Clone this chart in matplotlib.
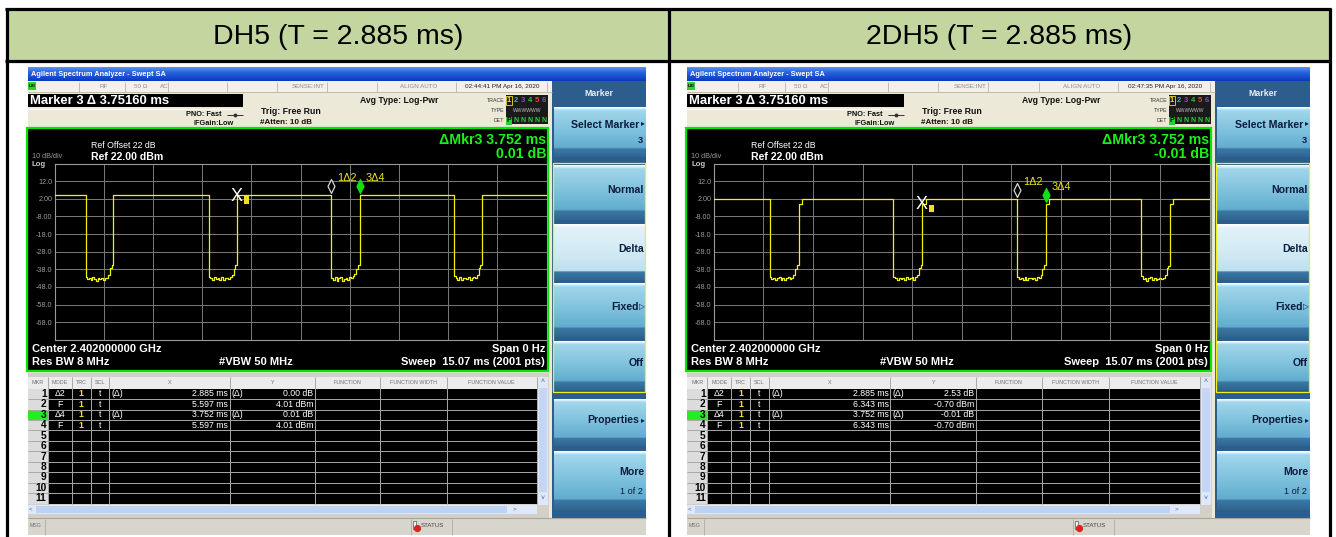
import numpy as np
import matplotlib
matplotlib.use("Agg")
import matplotlib.pyplot as plt
from matplotlib.patches import Rectangle
from matplotlib.path import Path
import matplotlib.transforms as mtransforms
import matplotlib.colors as mcolors

plt.rcParams['font.family'] = ['Liberation Sans', 'DejaVu Sans']

W, H = 1336, 537

# ---------------- data ----------------
panel_titles = ["DH5 (T = 2.885 ms)", "2DH5 (T = 2.885 ms)"]
timestamps = ["02:44:41 PM Apr 16, 2020", "02:47:35 PM Apr 16, 2020"]
marker_readout = ["Marker 3 \u0394 3.75160 ms", "Marker 3 \u0394 3.75160 ms"]
delta_mkr_time = ["\u0394Mkr3 3.752 ms", "\u0394Mkr3 3.752 ms"]
delta_mkr_level = ["0.01 dB", "-0.01 dB"]

sweep_ms = 15.07
ref_dbm = 22.0
db_per_div = 10.0
ytick_labels = ["12.0", "2.00", "-8.00", "-18.0", "-28.0", "-38.0", "-48.0", "-58.0", "-68.0"]

# DH5 trace (edges in ms, levels in dBm)
dh5_fall_ms = [0.95, 4.72, 8.482, 12.23]
dh5_rise_ms = [1.80, 5.597, 9.349, 13.10]
dh5_on_dbm = [4.0, 4.0, 4.0, 4.0, 4.0]
dh5_gap_dbm = [
    [-42.2, -43.6, -42.8, -43.9, -42.6, -43.3, -44.4, -42.7, -43.5, -42.9, -44.1, -43.2, -42.8, -41.2, -37.5, -35.5],
    [-42.5, -43.2, -44.0, -42.6, -43.5, -42.9, -43.8, -42.4, -44.3, -43.0, -42.7, -43.6, -42.2, -41.0, -37.8, -35.8],
    [-42.8, -43.9, -42.5, -44.6, -43.0, -42.4, -44.8, -43.4, -42.7, -43.8, -42.5, -43.1, -42.0, -40.8, -37.6, -35.6],
    [-41.8, -43.0, -43.8, -42.6, -44.0, -43.2, -42.9, -43.7, -42.6, -44.2, -43.0, -42.5, -42.9, -41.5, -37.4, -35.7],
]

# 2DH5 trace
dh2_fall_ms = [1.70, 5.46, 9.228, 12.98]
dh2_rise_ms = [2.58, 6.343, 10.095, 13.87]
dh2_on_dbm = [1.8, 1.8, 1.8, 1.8, 1.8]
dh2_sync_dbm = -0.7
dh2_sync_ms = 0.10
dh2_gap_dbm = [
    [-42.4, -43.5, -42.7, -44.0, -43.1, -42.5, -43.8, -42.9, -44.2, -43.0, -42.6, -43.7, -42.8, -41.4, -37.6, -35.8],
    [-42.6, -43.1, -44.1, -42.7, -43.4, -42.8, -44.0, -42.5, -43.6, -43.2, -42.4, -43.9, -42.6, -41.1, -37.4, -35.6],
    [-42.3, -43.4, -42.9, -43.8, -42.6, -44.3, -43.0, -42.7, -43.5, -42.8, -43.9, -42.6, -42.9, -41.3, -37.7, -35.7],
    [-42.0, -43.6, -42.8, -44.5, -43.2, -42.6, -43.9, -42.9, -44.1, -43.3, -42.7, -43.5, -42.7, -41.0, -37.5, -35.9],
]

# markers: 1 (delta), 2 (fixed), 3 (delta), 4 (fixed)
dh5_mkr_t = [8.482, 5.597, 9.349, 5.597]
dh5_mkr_y = [4.01, 4.01, 4.02, 4.01]
dh2_mkr_t = [9.228, 6.343, 10.095, 6.343]
dh2_mkr_y = [1.83, -0.70, -0.71, -0.70]

# marker table
table_header = ["MKR", "MODE", "TRC", "SCL", "X", "Y", "FUNCTION", "FUNCTION WIDTH", "FUNCTION VALUE"]
mkr_mode = ["\u03942", "F", "\u03944", "F"]
mkr_is_delta = [True, False, True, False]
dh5_x = ["2.885 ms", "5.597 ms", "3.752 ms", "5.597 ms"]
dh5_y = ["0.00 dB", "4.01 dBm", "0.01 dB", "4.01 dBm"]
dh2_x = ["2.885 ms", "6.343 ms", "3.752 ms", "6.343 ms"]
dh2_y = ["2.53 dB", "-0.70 dBm", "-0.01 dB", "-0.70 dBm"]

softkey_labels = ["Select Marker", "Normal", "Delta", "Fixed", "Off", "Properties", "More"]
softkey_sub = ["3", "", "", "", "", "", "1 of 2"]
softkey_arrow = ["\u25B8", "", "", "\u25B7", "", "\u25B8", ""]

# ---------------- figure ----------------
fig = plt.figure(figsize=(W / 100, H / 100), dpi=100)
bg = fig.add_axes([0, 0, 1, 1])
bg.set_xlim(0, W)
bg.set_ylim(H, 0)
bg.axis('off')

PT = 0.72  # points per pixel


def R(x, y, w, h, fc, ec='none', lw=0, z=1):
    bg.add_patch(Rectangle((x, y), w, h, facecolor=fc, edgecolor=ec, linewidth=lw, zorder=z))


def T(x, y, s, size, color='black', ha='left', va='center', weight='normal', z=6, **kw):
    bg.text(x, y, s, fontsize=size, color=color, ha=ha, va=va, fontweight=weight, zorder=z, **kw)


def L(xs, ys, color, lw, z=3):
    bg.plot(xs, ys, color=color, lw=lw, zorder=z, solid_capstyle='butt')


def G(x, y, w, h, stops, z=1):
    pos = [s[0] for s in stops]
    cols = np.array([mcolors.to_rgb(s[1]) for s in stops])
    f = np.linspace(0, 1, 64)
    img = np.stack([np.interp(f, pos, cols[:, k]) for k in range(3)], axis=1)[:, None, :]
    bg.imshow(img, extent=(x, x + w, y + h, y), aspect='auto', origin='upper',
              interpolation='bilinear', zorder=z)


def build_trace(falls, rises, on_levels, gaps, sync_level=None, sync_ms=0.0):
    t = [0.0]
    y = [on_levels[0]]
    for i, (f, r) in enumerate(zip(falls, rises)):
        g = gaps[i]
        edges = np.linspace(f, r, len(g) + 1)
        t.append(f)
        y.append(on_levels[i])
        for k in range(len(g)):
            t += [edges[k], edges[k + 1]]
            y += [g[k], g[k]]
        if sync_level is not None:
            t += [r, r + sync_ms, r + sync_ms]
            y += [sync_level, sync_level, on_levels[i + 1]]
        else:
            t += [r]
            y += [on_levels[i + 1]]
    t.append(sweep_ms)
    y.append(on_levels[-1])
    return np.array(t), np.array(y)


diamond = Path([(0, -1), (0.5, 0), (0, 1), (-0.5, 0), (0, -1)],
               [Path.MOVETO, Path.LINETO, Path.LINETO, Path.LINETO, Path.CLOSEPOLY])


def screen(x0, sx, ts, mread, dmt, dml, tr_t, tr_y, mk_t, mk_y, xv, yv):
    def X(r):
        return x0 + r * sx

    full = 618 * sx
    # title bar
    G(X(0), 67, full, 14, [(0, '#5a96f2'), (0.35, '#2a66e0'), (1, '#0a38c0')], z=2)
    T(X(3), 74, "Agilent Spectrum Analyzer - Swept SA", 5.3, 'white', weight='bold')
    # body
    R(X(0), 81, 524 * sx, 454, '#ece9d8', z=1)
    # status row
    R(X(0), 81, 524 * sx, 11, '#f3f1e8', z=2)
    L([X(0), X(524)], [92, 92], '#b8b4a8', 0.6)
    for rx in [50.6, 97, 140, 199, 249, 299, 349, 428, 519]:
        L([X(rx), X(rx)], [81.5, 91.5], '#b8b4a8', 0.6)
    R(X(0), 82, 8, 8, '#2ed02e', z=3)
    T(X(0.5), 86, "LXI", 3.2, 'black', weight='bold')
    grey = '#8a8a8a'
    T(X(71), 86.5, "RF", 4.5, grey)
    T(X(106), 86.5, "50 \u03a9", 4.5, grey)
    T(X(132), 86.5, "AC", 4.5, grey)
    T(X(297), 86.5, "SENSE:INT", 4.5, grey, ha='right')
    T(X(391), 86.5, "ALIGN AUTO", 4.5, grey, ha='center')
    T(X(474), 86.5, ts, 4.6, '#222222', ha='center')
    # marker readout
    R(X(0), 94, 215 * sx, 13, 'black', z=2)
    T(X(2), 100.5, mread, 9.4, 'white', weight='bold')
    L([X(0), X(215)], [109, 109], '#ffffff', 0.8)
    T(X(194), 114.5, "PNO: Fast", 5.3, '#111111', ha='right', weight='bold')
    L([X(199), X(215)], [114.5, 114.5], '#333333', 0.7)
    bg.plot([X(207)], [114.5], 'o', ms=1.8, color='#333333', zorder=4)
    T(X(206), 123.5, "IFGain:Low", 5.3, '#111111', ha='right', weight='bold')
    T(X(233), 111, "Trig: Free Run", 6.3, '#111111', weight='bold')
    T(X(232), 123, "#Atten: 10 dB", 5.8, '#111111', weight='bold')
    T(X(332), 100.3, "Avg Type: Log-Pwr", 6.2, '#111111', weight='bold')
    T(X(476.5), 100.3, "TRACE", 3.8, '#333333', ha='right')
    T(X(476.5), 110.7, "TYPE", 3.8, '#333333', ha='right')
    T(X(476.5), 120.3, "DET", 3.8, '#333333', ha='right')
    R(X(478), 95, 42 * sx, 29, '#1a1a1a', z=2)
    tcols = ['#f0e020', '#20c0c0', '#c030c0', '#30c030', '#e05020', '#7050e0']
    for k, c in enumerate(tcols):
        T(X(481 + k * 7), 100.3, str(k + 1), 5.5, c, ha='center', weight='bold')
    R(X(478.3), 96, 6, 9, 'none', ec='#f0e020', lw=0.6, z=4)
    T(X(499), 110.7, "WWWWWW", 3.6, '#c0c0c0', ha='center')
    R(X(478.3), 116.5, 6, 8, '#2ed02e', z=3)
    T(X(481), 120.3, "P", 5, 'black', ha='center', weight='bold')
    for k in range(5):
        T(X(488 + k * 7), 120.3, "N", 5, '#2ed02e', ha='center', weight='bold')

    # display (green frame)
    R(X(-1), 128, 521 * sx, 243, 'black', ec='#00e600', lw=1.6, z=2)
    T(X(63), 145, "Ref Offset 22 dB", 6.3, 'white')
    T(X(63), 156.5, "Ref 22.00 dBm", 7.6, 'white', weight='bold')
    T(X(4), 157, "10 dB/div", 5.2, '#9a9a9a')
    T(X(4), 164.5, "Log", 5.6, '#c8c8c8', weight='bold')
    T(X(518), 140.5, dmt, 10.2, '#1af01a', ha='right', weight='bold')
    T(X(518), 153.5, dml, 10.2, '#1af01a', ha='right', weight='bold')
    T(X(4), 348.5, "Center 2.402000000 GHz", 8.0, 'white', weight='bold')
    T(X(4), 362, "Res BW 8 MHz", 8.0, 'white', weight='bold')
    T(X(228), 362, "#VBW 50 MHz", 8.0, 'white', weight='bold', ha='center')
    T(X(517), 348.5, "Span 0 Hz", 8.0, 'white', weight='bold', ha='right')
    T(X(517), 362, "Sweep  15.07 ms (2001 pts)", 8.0, 'white', weight='bold', ha='right')

    # trace axes
    gx0, gx1, gy0, gy1 = X(26.5), X(518.5), 163.5, 339.8
    ax = fig.add_axes([gx0 / W, 1 - gy1 / H, (gx1 - gx0) / W, (gy1 - gy0) / H])
    ax.set_facecolor('black')
    ax.set_xlim(0, sweep_ms)
    ax.set_ylim(ref_dbm - 10 * db_per_div, ref_dbm)
    ax.set_xticks(np.linspace(0, sweep_ms, 11))
    ax.set_xticklabels([])
    yt = ref_dbm - db_per_div * np.arange(11)
    ax.set_yticks(yt)
    ax.set_yticklabels([""] + ytick_labels + [""], color='#9a9a9a', fontsize=5.2)
    ax.tick_params(length=0, pad=1.5)
    ax.grid(True, color='#7a7a7a', lw=0.7)
    for s in ax.spines.values():
        s.set_color('#9a9a9a')
        s.set_linewidth(0.8)
    ax.plot(tr_t, tr_y, color='#f2f20a', lw=0.9, zorder=3)
    up = mtransforms.offset_copy(ax.transData, fig=fig, x=0, y=9, units='dots')
    ax.plot([mk_t[0]], [mk_y[0]], marker=diamond, ms=10, mfc='black', mec='#d8d8d8',
            mew=0.9, transform=up, zorder=5, clip_on=False)
    ax.plot([mk_t[2]], [mk_y[2]], marker=diamond, ms=10, mfc='#10e010', mec='#10e010',
            mew=0.9, transform=up, zorder=5, clip_on=False)
    for i, lab in [(0, "1\u03942"), (2, "3\u03944")]:
        ax.annotate(lab, xy=(mk_t[i], mk_y[i]), xytext=(6 * PT, 17 * PT),
                    textcoords='offset points', color='#ece41a', fontsize=7.8,
                    ha='left', va='center', zorder=6)
    ax.annotate("X", xy=(mk_t[1], mk_y[1]), xytext=(-0.5 * PT, -1 * PT), textcoords='offset points',
                color='white', fontsize=13, ha='center', va='center', zorder=6)
    ax.annotate("2", xy=(mk_t[1], mk_y[1]), xytext=(9 * PT, -5 * PT), textcoords='offset points',
                color='#f0e020', fontsize=5.5, fontweight='bold', ha='center', va='center', zorder=6,
                bbox=dict(boxstyle='square,pad=0.05', fc='#f0e020', ec='none'))

    # marker table
    top, rowh = 388.6, 10.45
    R(X(0), 373, 521 * sx, 146, '#d4d0c8', z=2)
    R(X(0), 377, 509 * sx, 11.6, '#ececec', z=3)
    R(X(20), top, 489 * sx, 11 * rowh, 'black', z=3)
    R(X(0), top, 20 * sx, 11 * rowh, '#dcdcdc', z=3)
    R(X(0), top + 2 * rowh, 20 * sx, rowh, '#22ee22', z=4)
    bot = top + 11 * rowh
    cols = [20, 43.7, 62.7, 81, 201.7, 286.8, 351.7, 418.6, 509]
    for c in cols:
        L([X(c), X(c)], [377, bot], '#a8a8a8', 0.7, z=5)
    for k in range(1, 11):
        yy = top + k * rowh
        L([X(0), X(509)], [yy, yy], '#a8a8a8', 0.7, z=5)
    hx = [10, 31.9, 53.2, 71.9, 141.3, 244.3, 319.3, 385.2, 463.8]
    for lab, cx in zip(table_header, hx):
        T(X(cx), 383, lab, 3.9, '#707070', ha='center', z=6)
    for i in range(11):
        yy = top + (i + 0.5) * rowh
        T(X(18.5), yy, str(i + 1), 7.3, 'black', ha='right', weight='bold', z=6)
    for i in range(4):
        yy = top + (i + 0.5) * rowh
        T(X(32), yy, mkr_mode[i], 6.3, 'white', ha='center', z=6)
        T(X(53), yy, "1", 6.3, '#f0e020', ha='center', weight='bold', z=6)
        T(X(72), yy, "t", 6.3, 'white', ha='center', z=6)
        if mkr_is_delta[i]:
            T(X(84), yy, "(\u0394)", 6.3, 'white', z=6)
            T(X(204), yy, "(\u0394)", 6.3, 'white', z=6)
        T(X(200), yy, xv[i], 6.3, 'white', ha='right', z=6)
        T(X(285), yy, yv[i], 6.3, 'white', ha='right', z=6)
    # scroll bars
    R(X(509.5), 377, 10.5 * sx, bot - 377 + 1, '#dfe8f8', z=4)
    R(X(510.5), 388, 8.5 * sx, bot - 400, '#c4d6f4', z=5)
    T(X(514.8), 382, "\u02c4", 5, '#4060a0', ha='center', z=6)
    T(X(514.8), bot - 5, "\u02c5", 5, '#4060a0', ha='center', z=6)
    R(X(0), bot + 1, 509 * sx, 9.5, '#dfe8f8', z=4)
    R(X(8), bot + 2, 471 * sx, 7.5, '#bcd2f4', z=5)
    T(X(3), bot + 5.8, "<", 4.5, '#4060a0', ha='center', z=6)
    T(X(486), bot + 5.8, ">", 4.5, '#4060a0', ha='center', z=6)

    # MSG bar
    R(X(0), 518, full, 17, '#d8d5cc', z=2)
    L([X(0), X(618)], [518, 518], '#a8a49a', 0.8, z=3)
    T(X(2), 525.5, "MSG", 3.8, '#707070', z=6)
    L([X(17), X(17)], [519, 535], '#b0aca0', 0.6, z=3)
    L([X(383), X(383)], [519, 535], '#b0aca0', 0.6, z=3)
    L([X(424), X(424)], [519, 535], '#b0aca0', 0.6, z=3)
    R(X(384.5), 520.5, 3.5, 8, '#f4f4f4', ec='#555555', lw=0.5, z=4)
    bg.plot([X(389)], [527.5], 'o', ms=4.2, color='#e02020', zorder=5)
    T(X(392.5), 525.5, "STATUS", 4.4, '#444444', z=6)

    # right softkey panel
    R(X(524), 81, 94 * sx, 437, '#2d5d8c', z=2)
    T(X(571), 94, "Marker", 6.3, '#e6eef8', ha='center', weight='bold', z=6)
    keys = [(107, 157), (165, 220), (224, 280), (283, 337), (341, 390), (399, 446), (451, 510)]
    for k, (y0, y1) in enumerate(keys):
        hgt = y1 - y0
        if k == 2:
            stops = [(0, '#ffffff'), (0.06, '#e2f2f8'), (0.55, '#cfe9f3'), (0.84, '#bde0ee'),
                     (0.86, '#3d78a6'), (1, '#2f6690')]
        else:
            stops = [(0, '#ffffff'), (0.06, '#a2d6ea'), (0.5, '#7cc0dc'), (0.82, '#62acce'),
                     (0.84, '#3d78a6'), (1, '#2f6690')]
        G(X(525.5), y0, 91.5 * sx, hgt, stops, z=3)
        lab = softkey_labels[k]
        if softkey_sub[k]:
            ly = y0 + hgt * 0.36
        else:
            ly = y0 + hgt * 0.45
        rx_end = 611 if softkey_arrow[k] else 616
        T(X(rx_end), ly, lab, 7.6, '#0c1c3c', ha='right', weight='bold', z=6)
        if softkey_arrow[k]:
            T(X(616.5), ly - (1.5 if k == 0 else 0), softkey_arrow[k], 5.5,
              '#0c1c3c', ha='right', z=6)
        if softkey_sub[k]:
            T(X(615), y0 + hgt * (0.67 if k == 0 else 0.68), softkey_sub[k], 6.6, '#0c1c3c',
              ha='right', weight='bold' if k == 0 else 'normal', z=6)
    R(X(525.2), 163, 92 * sx, 229, 'none', ec='#f0f020', lw=0.9, z=7)


# ---------------- table frame ----------------
R(6.5, 9, 1323, 52, '#c4d6a0', z=0)
R(6.5, 61, 1323, 480, 'white', z=0)
for x in [6.5, 668.5, 1329.5]:
    L([x, x], [7.5, 540], 'black', 2.3, z=8)
L([5, 1331], [9, 9], 'black', 2.3, z=8)
L([5, 1331], [61, 61], 'black', 2.3, z=8)
T(338, 37, panel_titles[0], 20.5, 'black', ha='center')
T(999, 37, panel_titles[1], 20.5, 'black', ha='center')

t5, y5 = build_trace(dh5_fall_ms, dh5_rise_ms, dh5_on_dbm, dh5_gap_dbm)
t2, y2 = build_trace(dh2_fall_ms, dh2_rise_ms, dh2_on_dbm, dh2_gap_dbm, dh2_sync_dbm, dh2_sync_ms)

screen(28, 1.0, timestamps[0], marker_readout[0], delta_mkr_time[0], delta_mkr_level[0],
       t5, y5, dh5_mkr_t, dh5_mkr_y, dh5_x, dh5_y)
screen(687, 623 / 618, timestamps[1], marker_readout[1], delta_mkr_time[1], delta_mkr_level[1],
       t2, y2, dh2_mkr_t, dh2_mkr_y, dh2_x, dh2_y)

bg.set_xlim(0, W)
bg.set_ylim(H, 0)
fig.savefig("out.png", dpi=100, facecolor='white')
